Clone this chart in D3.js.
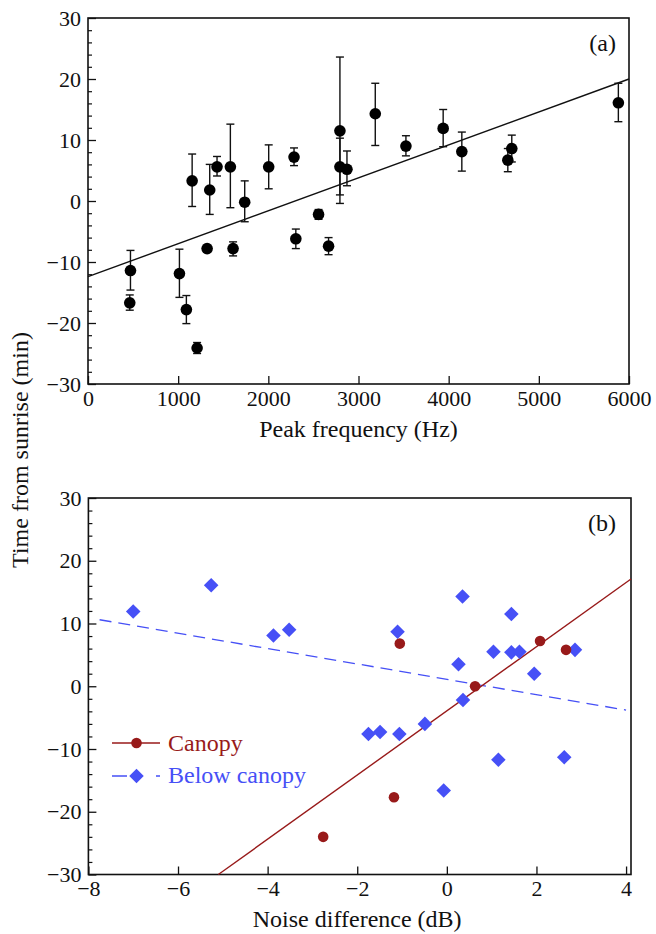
<!DOCTYPE html>
<html>
<head>
<meta charset="utf-8">
<script src="https://cdn.jsdelivr.net/npm/d3@7"></script>
<style>
  body { margin: 0; background: #fff; }
</style>
</head>
<body>
<div id="chart"></div>
<script>
// Panel (a): peak frequency vs time from sunrise, mean with error bars
const peakFreq = [463, 471, 1014, 1091, 1155, 1210, 1321, 1350, 1431, 1579, 1609, 1738, 2004, 2285,
                  2305, 2557, 2668, 2794, 2794, 2872, 3186, 3526, 3939, 4146, 4656, 4700, 5882];
const timeMean = [-16.7, -11.4, -11.9, -17.8, 3.3, -24.1, -7.8, 1.8, 5.6, 5.6, -7.8, -0.2, 5.6, 7.2,
                  -6.2, -2.2, -7.4, 11.5, 5.6, 5.2, 14.3, 9.0, 11.9, 8.1, 6.7, 8.6, 16.1];
const timeLow  = [-17.9, -14.6, -15.8, -20.1, -0.9, -25.0, -8.3, -2.2, 4.1, -1.1, -9.0, -3.4, 2.0, 5.8,
                  -7.8, -3.0, -8.8, -0.4, 1.0, 2.5, 9.1, 7.4, 8.9, 4.9, 4.8, 6.4, 13.0];
const timeHigh = [-15.4, -8.1, -7.9, -15.5, 7.7, -23.2, -7.3, 6.0, 7.3, 12.6, -6.7, 3.3, 9.2, 8.7,
                  -4.6, -1.4, -6.0, 23.6, 10.3, 8.2, 19.3, 10.7, 15.0, 11.3, 8.6, 10.8, 19.3];
const fitAX = [0, 6000];
const fitAY = [-12.4, 20.0];

// Panel (b): noise difference, canopy vs below canopy
const canopyX = [-2.76, -1.18, -1.05, 0.63, 2.08, 2.66];
const canopyY = [-24.0, -17.7, 6.8, 0.0, 7.2, 5.8];
const belowX = [-7.0, -5.26, -3.87, -3.52, -1.75, -1.49, -1.10, -1.06, -0.49, -0.07, 0.26,
                0.35, 0.36, 1.04, 1.15, 1.44, 1.44, 1.62, 1.95, 2.62, 2.86];
const belowY = [11.9, 16.1, 8.1, 9.0, -7.6, -7.3, 8.7, -7.6, -6.0, -16.6, 3.5,
                14.3, -2.2, 5.5, -11.7, 11.5, 5.4, 5.5, 2.0, -11.3, 5.8];
const canopyFitX = [-5.10, 4.11];
const canopyFitY = [-30, 17.1];
const belowFitX = [-7.75, 4.0];
const belowFitY = [10.6, -3.8];

const xTicksA = [0, 1000, 2000, 3000, 4000, 5000, 6000];
const xTicksB = [-8, -6, -4, -2, 0, 2, 4];
const yTicks = [-30, -20, -10, 0, 10, 20, 30];
const yMinorTicks = d3.range(-28, 30, 2).filter(v => v % 10 !== 0);

const legendNames = ["Canopy", "Below canopy"];

const red = "#981a1a";
const blue = "#4650f6";
const serif = '"Liberation Serif"';

const minus = d => d < 0 ? "\u2212" + Math.abs(d) : d;

const svg = d3.select("#chart")
    .append("svg")
        .attr("width", 656)
        .attr("height", 934);

// y axis + minor ticks + x axis + frame, same for both panels
function drawFrame(x, y, xTicks) {
    const g = svg.append("g");
    const [x0, x1] = x.range();
    const [y0, y1] = y.range();

    g.append("g")
        .attr("transform", `translate(${x0},0)`)
        .call(d3.axisLeft(y).tickValues(yTicks).tickSize(-8).tickSizeOuter(0).tickPadding(7).tickFormat(minus))
        .call(a => a.select(".domain").remove())
        .call(a => a.selectAll("text").style("font-family", serif).attr("font-size", 22).attr("fill", "#111"))
        .call(a => a.selectAll("line").attr("stroke", "#111").attr("stroke-width", 1.3));

    g.append("g")
        .attr("transform", `translate(${x0},0)`)
        .call(d3.axisLeft(y).tickValues(yMinorTicks).tickSize(-4).tickSizeOuter(0).tickFormat(""))
        .call(a => a.select(".domain").remove())
        .call(a => a.selectAll("line").attr("stroke", "#111").attr("stroke-width", 1.2));

    g.append("g")
        .attr("transform", `translate(0,${y0})`)
        .call(d3.axisBottom(x).tickValues(xTicks).tickSize(-8).tickSizeOuter(0).tickPadding(6).tickFormat(minus))
        .call(a => a.select(".domain").remove())
        .call(a => a.selectAll("text").style("font-family", serif).attr("font-size", 22).attr("fill", "#111"))
        .call(a => a.selectAll("line").attr("stroke", "#111").attr("stroke-width", 1.3));

    g.append("rect")
        .attr("x", x0)
        .attr("y", y1)
        .attr("width", x1 - x0)
        .attr("height", y0 - y1)
        .attr("fill", "none")
        .attr("stroke", "#111")
        .attr("stroke-width", 1.6);
}

function label(x, y, txt, anchor, color) {
    return svg.append("text")
        .attr("x", x).attr("y", y)
        .attr("text-anchor", anchor)
        .attr("font-size", 24)
        .attr("fill", color)
        .style("font-family", serif)
        .text(txt);
}

// ---------- panel (a) ----------
const xA = d3.scaleLinear().domain([0, 6000]).range([88, 629]);
const yA = d3.scaleLinear().domain([-30, 30]).range([384, 18]);

drawFrame(xA, yA, xTicksA);

const plotA = svg.append("g");

plotA.append("line")
    .attr("x1", xA(fitAX[0])).attr("y1", yA(fitAY[0]))
    .attr("x2", xA(fitAX[1])).attr("y2", yA(fitAY[1]))
    .attr("stroke", "#111")
    .attr("stroke-width", 1.4);

const bars = plotA.selectAll(".err")
    .data(peakFreq)
    .enter()
    .append("g")
        .attr("class", "err")
        .attr("stroke", "#111")
        .attr("stroke-width", 1.4);
bars.append("line")
    .attr("x1", d => xA(d)).attr("x2", d => xA(d))
    .attr("y1", (d, i) => yA(timeLow[i])).attr("y2", (d, i) => yA(timeHigh[i]));
bars.append("line")
    .attr("x1", d => xA(d) - 4).attr("x2", d => xA(d) + 4)
    .attr("y1", (d, i) => yA(timeLow[i])).attr("y2", (d, i) => yA(timeLow[i]));
bars.append("line")
    .attr("x1", d => xA(d) - 4).attr("x2", d => xA(d) + 4)
    .attr("y1", (d, i) => yA(timeHigh[i])).attr("y2", (d, i) => yA(timeHigh[i]));

plotA.selectAll("circle")
    .data(peakFreq)
    .enter()
    .append("circle")
        .attr("cx", d => xA(d))
        .attr("cy", (d, i) => yA(timeMean[i]))
        .attr("r", 5.8)
        .attr("fill", "#000");

label(616, 51, "(a)", "end", "#111");
label((88 + 629) / 2, 437, "Peak frequency (Hz)", "middle", "#111");

// ---------- panel (b) ----------
const xB = d3.scaleLinear().domain([-8, 4.11]).range([88.4, 631]);
const yB = d3.scaleLinear().domain([-30, 30]).range([874.5, 498]);

drawFrame(xB, yB, xTicksB);

const plotB = svg.append("g");

plotB.append("line")
    .attr("x1", xB(belowFitX[0])).attr("y1", yB(belowFitY[0]))
    .attr("x2", xB(belowFitX[1])).attr("y2", yB(belowFitY[1]))
    .attr("stroke", blue)
    .attr("stroke-width", 1.3)
    .attr("stroke-dasharray", "12,7");

plotB.append("line")
    .attr("x1", xB(canopyFitX[0])).attr("y1", yB(canopyFitY[0]))
    .attr("x2", xB(canopyFitX[1])).attr("y2", yB(canopyFitY[1]))
    .attr("stroke", red)
    .attr("stroke-width", 1.4);

const diamond = d3.symbol().type(d3.symbolSquare).size(106);

plotB.selectAll(".below")
    .data(belowX)
    .enter()
    .append("path")
        .attr("class", "below")
        .attr("d", diamond)
        .attr("transform", (d, i) => `translate(${xB(d)},${yB(belowY[i])}) rotate(45)`)
        .attr("fill", blue);

plotB.selectAll(".canopy")
    .data(canopyX)
    .enter()
    .append("circle")
        .attr("class", "canopy")
        .attr("cx", d => xB(d))
        .attr("cy", (d, i) => yB(canopyY[i]))
        .attr("r", 5.3)
        .attr("fill", red);

// legend
const legend = svg.append("g");
legend.append("line")
    .attr("x1", 112).attr("x2", 160).attr("y1", 743).attr("y2", 743)
    .attr("stroke", red).attr("stroke-width", 1.4);
legend.append("circle")
    .attr("cx", 136.5).attr("cy", 743).attr("r", 5.3).attr("fill", red);
label(168, 751, legendNames[0], "start", red);

legend.append("line")
    .attr("x1", 112).attr("x2", 160).attr("y1", 776).attr("y2", 776)
    .attr("stroke", blue).attr("stroke-width", 1.3)
    .attr("stroke-dasharray", "15,29,4");
legend.append("path")
    .attr("d", diamond)
    .attr("transform", "translate(136.5,776) rotate(45)")
    .attr("fill", blue);
label(168, 783, legendNames[1], "start", blue);

label(616, 531, "(b)", "end", "#111");
label((88.4 + 626) / 2, 927, "Noise difference (dB)", "middle", "#111");

// shared y title
label(0, 0, "Time from sunrise (min)", "middle", "#111")
    .attr("transform", "translate(28,450) rotate(-90)");
</script>
</body>
</html>
